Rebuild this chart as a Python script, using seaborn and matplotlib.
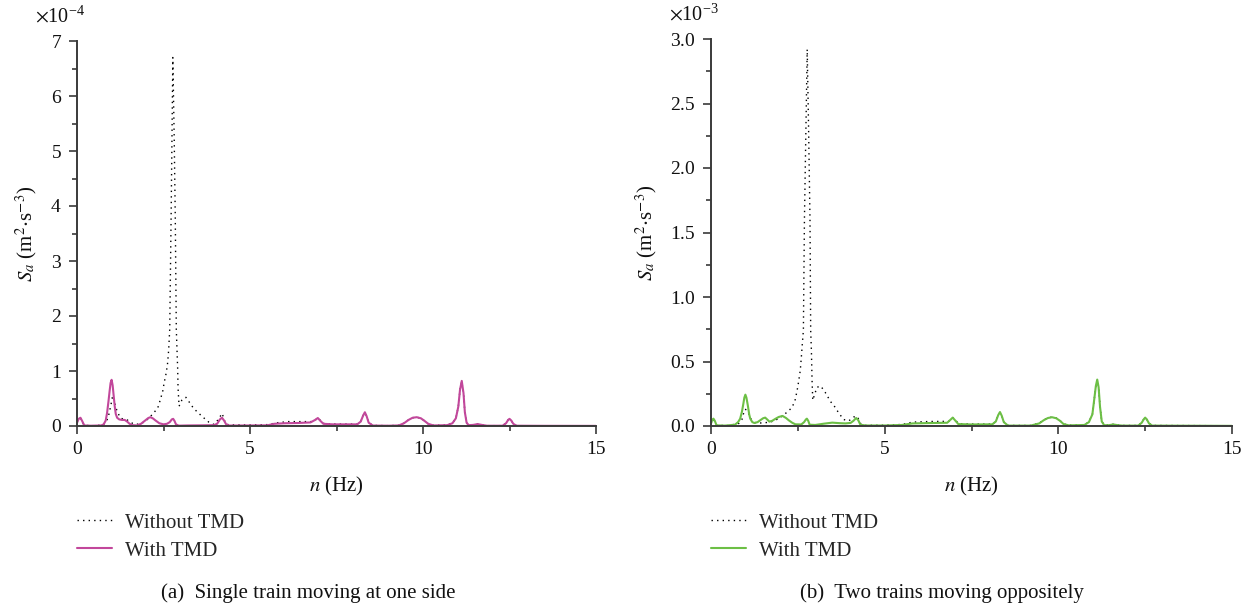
import numpy as np
import pandas as pd
import matplotlib
matplotlib.use("Agg")
import matplotlib.pyplot as plt
from matplotlib.ticker import MultipleLocator, ScalarFormatter
import seaborn as sns

# ---- (a) single train moving at one side, S_a in 1e-4 m^2 s^-3 ----
freq_a_with = [0.00, 0.05, 0.10, 0.15, 0.21, 0.40, 0.70, 0.77, 0.83, 0.87, 0.91, 0.94, 0.97, 1.00,
               1.03, 1.06, 1.09, 1.12, 1.16, 1.22, 1.30, 1.38, 1.45, 1.52, 1.60, 1.73, 1.85, 1.97,
               2.06, 2.12, 2.19, 2.27, 2.38, 2.50, 2.60, 2.68, 2.74, 2.78, 2.82, 2.86, 2.94, 3.20,
               3.60, 3.95, 4.05, 4.13, 4.19, 4.25, 4.31, 4.40, 5.00, 5.50, 5.70, 6.00, 6.40, 6.75,
               6.88, 6.96, 7.04, 7.12, 7.40, 7.80, 8.10, 8.20, 8.27, 8.32, 8.37, 8.43, 8.55, 9.00,
               9.30, 9.45, 9.58, 9.70, 9.82, 9.94, 10.05, 10.15, 10.30, 10.70, 10.85, 10.95, 11.02,
               11.07, 11.12, 11.17, 11.21, 11.26, 11.32, 11.45, 11.58, 11.70, 11.85, 12.30, 12.40,
               12.46, 12.50, 12.55, 12.61, 12.70, 13.50, 15.00]
sa_a_with = [0.06, 0.13, 0.15, 0.09, 0.01, 0.005, 0.01, 0.03, 0.10, 0.24, 0.45, 0.62, 0.78, 0.84,
             0.74, 0.55, 0.36, 0.22, 0.15, 0.12, 0.11, 0.11, 0.08, 0.04, 0.015, 0.01, 0.04, 0.10,
             0.145, 0.16, 0.14, 0.10, 0.05, 0.03, 0.04, 0.07, 0.12, 0.13, 0.09, 0.03, 0.006, 0.01,
             0.012, 0.015, 0.04, 0.12, 0.15, 0.10, 0.03, 0.008, 0.01, 0.012, 0.04, 0.05, 0.055, 0.065,
             0.11, 0.145, 0.09, 0.04, 0.03, 0.03, 0.03, 0.08, 0.19, 0.25, 0.18, 0.06, 0.008, 0.005,
             0.01, 0.05, 0.11, 0.15, 0.16, 0.14, 0.09, 0.04, 0.01, 0.015, 0.05, 0.14, 0.35,
             0.66, 0.82, 0.60, 0.25, 0.06, 0.015, 0.02, 0.035, 0.02, 0.005, 0.005, 0.05,
             0.11, 0.13, 0.10, 0.04, 0.005, 0.003, 0.002]

freq_a_without = [0.00, 0.05, 0.10, 0.15, 0.21, 0.50, 0.75, 0.85, 0.91, 0.98, 1.03, 1.08, 1.11, 1.16,
                  1.25, 1.35, 1.45, 1.60, 1.73, 1.90, 2.02, 2.12, 2.20, 2.33, 2.41, 2.48, 2.52, 2.58,
                  2.62, 2.65, 2.68, 2.72, 2.77, 2.81, 2.84, 2.87, 2.89, 2.91, 2.92, 2.95, 3.03, 3.10,
                  3.15, 3.26, 3.37, 3.52, 3.66, 3.81, 3.95, 4.09, 4.19, 4.24, 4.29, 4.40, 5.00, 5.50,
                  5.80, 6.10, 6.50, 6.84, 6.96, 7.05, 7.15, 7.50, 8.10, 8.20, 8.27, 8.32, 8.37, 8.43,
                  8.55, 9.00, 9.30, 9.45, 9.58, 9.70, 9.82, 9.94, 10.05, 10.15, 10.30, 10.70, 10.85,
                  10.95, 11.02, 11.07, 11.12, 11.17, 11.21, 11.26, 11.32, 11.45, 11.58, 11.70, 11.85,
                  12.30, 12.40, 12.46, 12.50, 12.55, 12.61, 12.70, 13.50, 15.00]
sa_a_without = [0.06, 0.12, 0.14, 0.08, 0.01, 0.005, 0.02, 0.08, 0.18, 0.38, 0.55, 0.45, 0.36, 0.27,
                0.15, 0.12, 0.11, 0.05, 0.03, 0.06, 0.11, 0.17, 0.23, 0.32, 0.48, 0.64, 0.79, 0.97,
                1.15, 1.39, 1.76, 3.80, 6.70, 5.20, 3.80, 1.76, 1.39, 1.03, 0.70, 0.36, 0.47, 0.51,
                0.52, 0.42, 0.32, 0.23, 0.15, 0.07, 0.03, 0.12, 0.23, 0.15, 0.04, 0.02, 0.02, 0.025,
                0.06, 0.08, 0.08, 0.08, 0.15, 0.09, 0.04, 0.035, 0.035, 0.08, 0.19, 0.24, 0.18, 0.06,
                0.01, 0.006, 0.012, 0.05, 0.11, 0.15, 0.16, 0.14, 0.09, 0.04, 0.012, 0.018, 0.05,
                0.14, 0.35, 0.66, 0.81, 0.60, 0.25, 0.06, 0.015, 0.02, 0.035, 0.02, 0.006,
                0.006, 0.05, 0.11, 0.13, 0.10, 0.04, 0.006, 0.004, 0.003]

# ---- (b) two trains moving oppositely, S_a in 1e-3 m^2 s^-3 ----
freq_b_with = [0.00, 0.04, 0.07, 0.11, 0.16, 0.40, 0.69, 0.78, 0.84, 0.89, 0.93, 0.96, 0.99, 1.02,
               1.06, 1.10, 1.13, 1.19, 1.25, 1.34, 1.42, 1.50, 1.56, 1.62, 1.68, 1.76, 1.85, 1.95,
               2.06, 2.16, 2.24, 2.34, 2.43, 2.60, 2.68, 2.73, 2.76, 2.80, 2.84, 3.00, 3.25, 3.49,
               3.70, 3.87, 4.02, 4.10, 4.18, 4.24, 4.30, 4.45, 5.00, 5.50, 5.80, 6.30, 6.80, 6.88,
               6.96, 7.04, 7.12, 7.50, 8.10, 8.20, 8.27, 8.32, 8.37, 8.43, 8.55, 9.20, 9.45, 9.58,
               9.70, 9.82, 9.94, 10.05, 10.15, 10.30, 10.75, 10.88, 10.98, 11.04, 11.08, 11.12,
               11.16, 11.20, 11.25, 11.32, 11.45, 11.58, 11.72, 11.85, 12.30, 12.40, 12.46, 12.50,
               12.55, 12.61, 12.70, 15.00]
sa_b_with = [0.02, 0.05, 0.057, 0.04, 0.005, 0.003, 0.01, 0.03, 0.057, 0.11, 0.17, 0.22, 0.243, 0.22,
             0.16, 0.09, 0.057, 0.03, 0.023, 0.03, 0.045, 0.06, 0.065, 0.05, 0.034, 0.04, 0.055, 0.07,
             0.078, 0.062, 0.044, 0.025, 0.013, 0.012, 0.03, 0.05, 0.057, 0.04, 0.01, 0.008, 0.018, 0.026,
             0.022, 0.02, 0.024, 0.04, 0.062, 0.045, 0.01, 0.004, 0.004, 0.008, 0.02, 0.023, 0.025, 0.045,
             0.065, 0.04, 0.015, 0.012, 0.013, 0.035, 0.085, 0.108, 0.08, 0.03, 0.003, 0.003, 0.02, 0.045,
             0.062, 0.068, 0.06, 0.04, 0.015, 0.005, 0.008, 0.03, 0.09, 0.22, 0.31, 0.36,
             0.30, 0.15, 0.035, 0.006, 0.006, 0.012, 0.006, 0.003, 0.003, 0.025, 0.052, 0.065,
             0.05, 0.02, 0.003, 0.001]

freq_b_without = [0.00, 0.04, 0.07, 0.11, 0.16, 0.50, 0.80, 0.89, 0.94, 0.98, 1.02, 1.06, 1.16, 1.27,
                  1.46, 1.71, 1.95, 2.14, 2.31, 2.41, 2.48, 2.52, 2.57, 2.60, 2.63, 2.66, 2.69, 2.77,
                  2.81, 2.85, 2.87, 2.89, 2.91, 2.93, 2.99, 3.05, 3.16, 3.29, 3.44, 3.56, 3.68, 3.82,
                  3.97, 4.11, 4.21, 4.31, 4.45, 5.00, 5.50, 5.80, 6.30, 6.85, 6.96, 7.05, 7.15, 7.50,
                  8.10, 8.20, 8.27, 8.32, 8.37, 8.43, 8.55, 9.20, 9.45, 9.58, 9.70, 9.82, 9.94, 10.05,
                  10.15, 10.30, 10.75, 10.88, 10.98, 11.04, 11.08, 11.12, 11.16, 11.20, 11.25, 11.32,
                  11.45, 11.58, 11.72, 11.85, 12.30, 12.40, 12.46, 12.50, 12.55, 12.61, 12.70, 15.00]
sa_b_without = [0.02, 0.045, 0.052, 0.035, 0.005, 0.003, 0.02, 0.05, 0.10, 0.13, 0.125, 0.11, 0.05, 0.026,
                0.023, 0.03, 0.057, 0.096, 0.137, 0.186, 0.276, 0.34, 0.43, 0.53, 0.64, 0.74, 1.60, 2.92,
                2.30, 1.60, 0.74, 0.59, 0.35, 0.20, 0.25, 0.30, 0.31, 0.26, 0.19, 0.15, 0.10, 0.05,
                0.04, 0.07, 0.075, 0.018, 0.005, 0.006, 0.012, 0.03, 0.035, 0.036, 0.065, 0.04, 0.018, 0.015,
                0.015, 0.035, 0.085, 0.105, 0.08, 0.03, 0.004, 0.004, 0.022, 0.046, 0.063, 0.069, 0.061, 0.041,
                0.016, 0.006, 0.009, 0.031, 0.09, 0.22, 0.31, 0.355, 0.30, 0.15, 0.036, 0.007,
                0.007, 0.013, 0.007, 0.004, 0.004, 0.026, 0.053, 0.065, 0.05, 0.021, 0.004, 0.002]

x_ticks = [0, 5, 10, 15]
legend_labels = ["Without TMD", "With TMD"]
captions = ["(a)  Single train moving at one side", "(b)  Two trains moving oppositely"]
ylabel = r"$S_a$ (m$^2$$\cdot$s$^{-3}$)"
xlabel = r"$n$ (Hz)"

sns.set_theme(style="ticks")
plt.rcParams["font.family"] = ["Liberation Serif", "DejaVu Serif"]
plt.rcParams["mathtext.fontset"] = "stix"
plt.rcParams["axes.unicode_minus"] = True

spine_col = "#3a3a3a"
text_col = "#111111"
fig = plt.figure(figsize=(12.5, 6.08), dpi=100)
ax_a = fig.add_axes([77 / 1250, 1 - 426 / 608, 519 / 1250, 385 / 608])
ax_b = fig.add_axes([711 / 1250, 1 - 426 / 608, 521 / 1250, 387 / 608])

panels = [
    (ax_a, freq_a_without, sa_a_without, freq_a_with, sa_a_with, 1e-4, "#c2479b", 7e-4, 1e-4, 0.5e-4),
    (ax_b, freq_b_without, sa_b_without, freq_b_with, sa_b_with, 1e-3, "#6cbf45", 3e-3, 0.5e-3, 0.25e-3),
]

formatters = []
for ax, fx0, sy0, fx1, sy1, scale, col, ytop, ymaj, ymin in panels:
    d0 = pd.DataFrame({"n": fx0, "Sa": np.asarray(sy0) * scale})
    d1 = pd.DataFrame({"n": fx1, "Sa": np.asarray(sy1) * scale})
    sns.lineplot(data=d0, x="n", y="Sa", ax=ax, color="black", lw=1.0,
                 linestyle=(0, (1, 3)), label=legend_labels[0])
    sns.lineplot(data=d1, x="n", y="Sa", ax=ax, color=col, lw=1.5, label=legend_labels[1])

    ax.set_xlim(0, 15)
    ax.set_ylim(0, ytop)
    ax.set_xticks(x_ticks)
    ax.xaxis.set_minor_locator(MultipleLocator(2.5))
    ax.yaxis.set_major_locator(MultipleLocator(ymaj))
    ax.yaxis.set_minor_locator(MultipleLocator(ymin))
    fmt = ScalarFormatter(useMathText=True)
    fmt.set_powerlimits((0, 0))
    ax.yaxis.set_major_formatter(fmt)
    formatters.append(fmt)

    for side in ["top", "right"]:
        ax.spines[side].set_visible(False)
    for side in ["left", "bottom"]:
        ax.spines[side].set_color(spine_col)
        ax.spines[side].set_linewidth(1.4)
    ax.tick_params(which="major", direction="out", length=6, width=1.2, color=spine_col,
                   labelsize=14, pad=5, labelcolor=text_col)
    ax.tick_params(which="minor", direction="out", length=3.5, width=1.2, color=spine_col)

    ax.set_xlabel(xlabel, fontsize=15, labelpad=12, color=text_col)
    ax.set_ylabel(ylabel, fontsize=15, labelpad=8, color=text_col)

    x0 = ax.get_position().x0
    ax.legend(loc="upper left", bbox_to_anchor=(x0, 1 - 513 / 608), bbox_transform=fig.transFigure,
              frameon=False, fontsize=15, handlelength=1.7, handletextpad=0.6,
              labelspacing=0.4, borderpad=0, borderaxespad=0)

# Exponent label sits above the y axis, clear of the top tick label
fig.canvas.draw()
for ax, fmt in zip([ax_a, ax_b], formatters):
    ax.yaxis.get_offset_text().set_visible(False)
    ax.text(0.015, 1.035, fmt.get_offset(), transform=ax.transAxes, ha="right", va="bottom",
            fontsize=14.5, color=text_col)

fig.text(308 / 1250, 1 - 593 / 608, captions[0], ha="center", va="center", fontsize=15, color=text_col)
fig.text(942 / 1250, 1 - 593 / 608, captions[1], ha="center", va="center", fontsize=15, color=text_col)

fig.savefig("out.png", dpi=100)
